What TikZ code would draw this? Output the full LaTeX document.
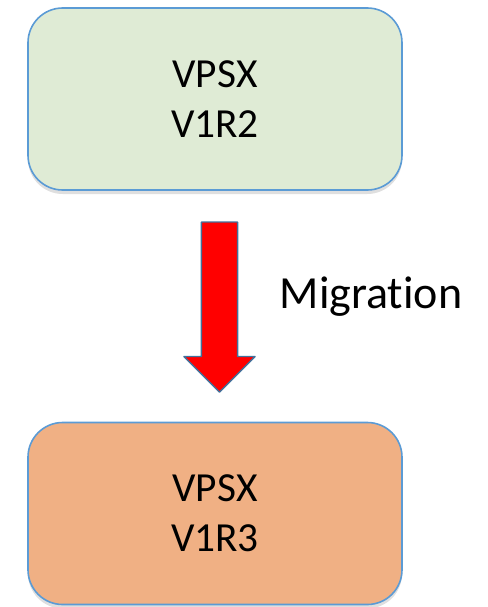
\documentclass[tikz,border=0pt]{standalone}
\usepackage{fontspec}
\setmainfont{Carlito}[Ligatures=NoCommon]
\usetikzlibrary{shapes.arrows,shadows}
\definecolor{boxline}{HTML}{5B9BD5}
\definecolor{oldfill}{HTML}{DFEBD5}
\definecolor{newfill}{HTML}{F0B084}
\definecolor{arrowline}{HTML}{41719C}
\tikzset{
  version/.style={draw=boxline,line width=1.2pt,rounded corners=26pt,
    minimum width=280.5pt,minimum height=136.5pt,align=center,
    font=\fontsize{31}{37.5}\selectfont,
    drop shadow={shadow xshift=0pt,shadow yshift=-3pt,opacity=0.25}},
  migarrow/.style={single arrow,draw=arrowline,line width=1pt,fill=red,
    inner xsep=0pt,inner ysep=13.1pt,minimum height=127.5pt,minimum width=52.5pt,
    single arrow head extend=13.1pt,rotate=-90}
}
\begin{document}
\begin{tikzpicture}[x=0.75pt,y=-0.75pt,line join=round]
\useasboundingbox (0,0) rectangle (488,607);

  \node[version,fill=oldfill] (v1r2) at (215,99) {VPSX\\V1R2};
  \node[version,fill=newfill] (v1r3) at (215,513.5) {VPSX\\V1R3};

  \node[migarrow] (mig) at (219.5,298) {};
  \node[anchor=base west,font=\fontsize{34.5}{40}\selectfont] (migtext) at (275,308) {Migration};
\end{tikzpicture}
\end{document}
